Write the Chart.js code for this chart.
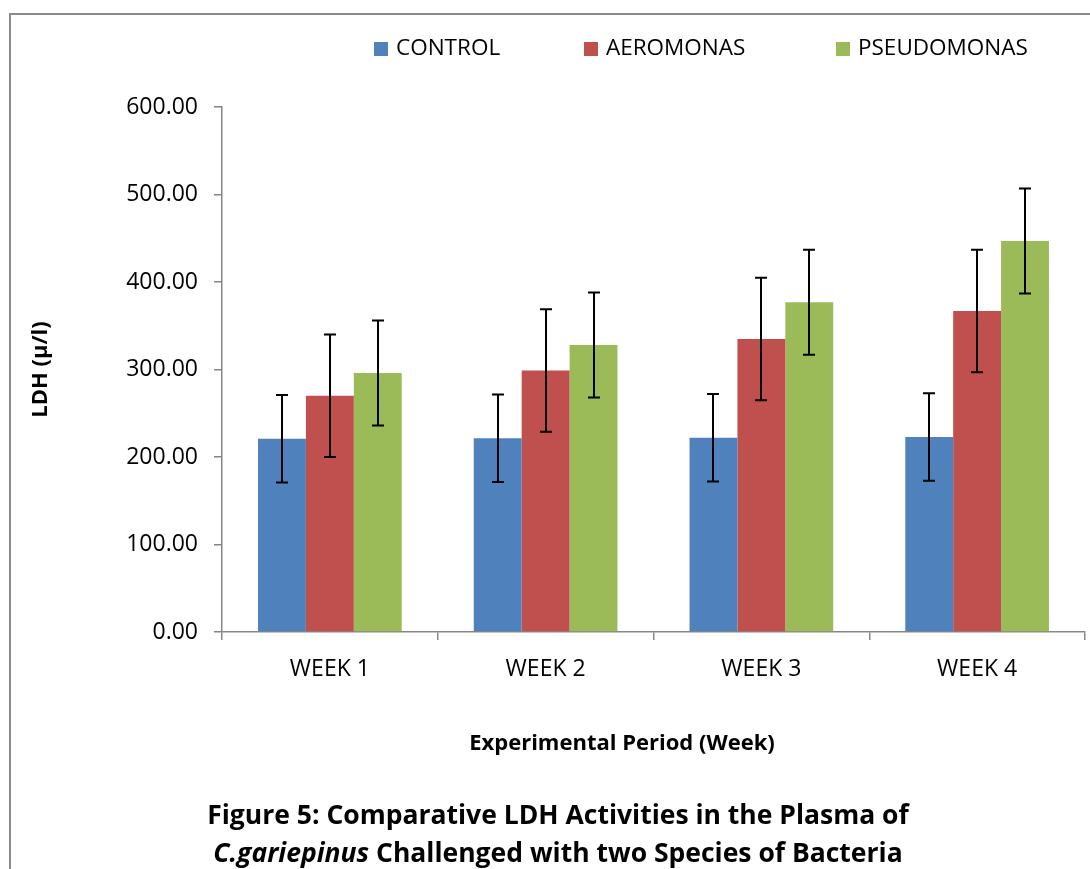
<!DOCTYPE html>
<html>
<head>
<meta charset="utf-8">
<script src="https://cdn.jsdelivr.net/npm/chart.js@4.4.1/dist/chart.umd.min.js"></script>
<style>
  html, body { margin: 0; padding: 0; background: #fff; overflow: hidden; }
  #wrap { position: relative; width: 1090px; height: 869px; font-family: 'Open Sans', sans-serif; color: #000; }
  #frame { position: absolute; left: 9px; top: 13px; width: 1200px; height: 1000px; border: 2px solid #8a8a8a; box-sizing: border-box; }
  canvas { position: absolute; left: 0; top: 0; }
  .leg { position: absolute; top: 32px; font-size: 22.5px; line-height: 30px; white-space: nowrap; }
  .leg span.box { display: inline-block; width: 14px; height: 14px; margin-right: 8px; vertical-align: -1px; }
  #xtitle { position: absolute; left: 622px; top: 726px; transform: translateX(-50%); font-weight: bold; font-size: 22px; white-space: nowrap; }
  #caption { position: absolute; left: 558px; top: 795px; transform: translateX(-50%); font-weight: bold; font-size: 26.5px; line-height: 38px; text-align: center; white-space: nowrap; }
</style>
</head>
<body>
<div id="wrap">
  <div id="frame"></div>
  <canvas id="c" width="1090" height="869"></canvas>
  <div id="legend"></div>
  <div id="xtitle">Experimental Period (Week)</div>
  <div id="caption">Figure 5: Comparative LDH Activities in the Plasma of<br><i>C.gariepinus</i> Challenged with two Species of Bacteria</div>
</div>
<script>
const categories = ['WEEK 1', 'WEEK 2', 'WEEK 3', 'WEEK 4'];
const seriesNames = ['CONTROL', 'AEROMONAS', 'PSEUDOMONAS'];
const control = [221, 221.5, 222, 223];
const aeromonas = [270, 299, 335, 367];
const pseudomonas = [296, 328, 377, 447];
const controlErr = [50, 50, 50, 50];
const aeromonasErr = [70, 70, 70, 70];
const pseudomonasErr = [60, 60, 60, 60];
const yTicks = [0, 100, 200, 300, 400, 500, 600];

const colors = ['#4F81BD', '#C0504D', '#9BBB59'];
const values = [control, aeromonas, pseudomonas];
const errors = [controlErr, aeromonasErr, pseudomonasErr];

const errorBars = {
  id: 'errorBars',
  afterDatasetsDraw(chart) {
    const ctx = chart.ctx;
    const y = chart.scales.y;
    ctx.save();
    ctx.strokeStyle = '#000';
    ctx.lineWidth = 2;
    chart.data.datasets.forEach((ds, di) => {
      const meta = chart.getDatasetMeta(di);
      meta.data.forEach((bar, i) => {
        const v = ds.data[i], e = ds.errors[i];
        const yt = y.getPixelForValue(v + e), yb = y.getPixelForValue(v - e);
        const x = Math.round(bar.x);
        ctx.beginPath();
        ctx.moveTo(x, yt); ctx.lineTo(x, yb);
        ctx.moveTo(x - 6, yt); ctx.lineTo(x + 6, yt);
        ctx.moveTo(x - 6, yb); ctx.lineTo(x + 6, yb);
        ctx.stroke();
      });
    });
    ctx.restore();
  }
};

const chart = new Chart(document.getElementById('c'), {
  type: 'bar',
  data: {
    labels: categories,
    datasets: seriesNames.map((n, i) => ({
      label: n,
      data: values[i],
      errors: errors[i],
      backgroundColor: colors[i],
      borderWidth: 0,
      categoryPercentage: 0.666,
      barPercentage: 1.0
    }))
  },
  options: {
    responsive: false,
    animation: false,
    layout: { padding: { top: 107, right: 5, left: 0, bottom: 0 } },
    plugins: { legend: { display: false }, title: { display: false }, tooltip: { enabled: false } },
    scales: {
      x: {
        grid: { display: true, drawOnChartArea: false, drawTicks: true, tickLength: 8, color: '#878787', lineWidth: 1.5, offset: true },
        border: { display: true, color: '#878787', width: 1.5 },
        ticks: { color: '#000', font: { family: 'Open Sans', size: 23 }, padding: 16 },
        afterFit(s) { s.height = 237; }
      },
      y: {
        min: 0, max: 600,
        afterBuildTicks(s) { s.ticks = yTicks.map(v => ({ value: v })); },
        grid: { display: true, drawOnChartArea: false, drawTicks: true, tickLength: 8, color: '#878787', lineWidth: 1.5 },
        border: { display: true, color: '#878787', width: 1.5 },
        ticks: { color: '#000', font: { family: 'Open Sans', size: 23 }, padding: 16, callback: v => Number(v).toFixed(2) },
        title: { display: true, text: 'LDH (µ/l)', color: '#000', font: { family: 'Open Sans', size: 22, weight: 'bold' }, padding: { top: 28, bottom: 0 } },
        afterFit(s) { s.width = 222; }
      }
    }
  },
  plugins: [errorBars]
});

const legendPos = [374, 584, 836];
const legend = document.getElementById('legend');
chart.data.datasets.forEach((ds, i) => {
  const d = document.createElement('div');
  d.className = 'leg';
  d.style.left = legendPos[i] + 'px';
  d.innerHTML = '<span class="box" style="background:' + ds.backgroundColor + '"></span>' + ds.label;
  legend.appendChild(d);
});
</script>
</body>
</html>
